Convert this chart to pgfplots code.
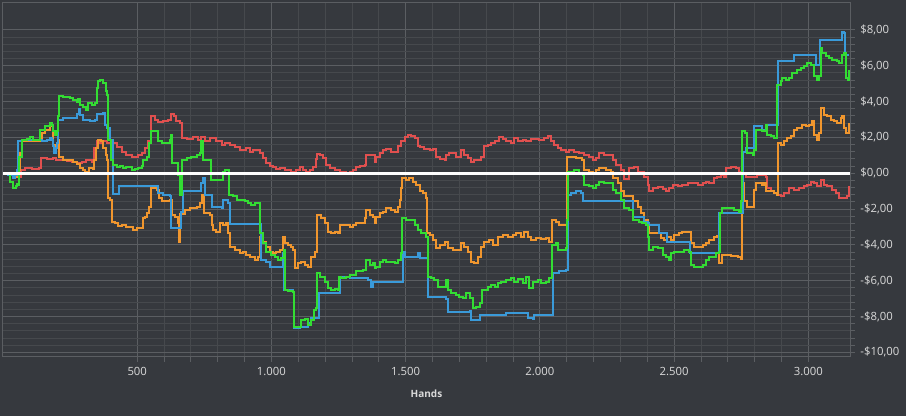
\documentclass[border=0pt]{standalone}
\usepackage{pgfplots}
\pgfplotsset{compat=1.18}
\usepackage{fontspec}
\setmainfont{Open Sans}

\definecolor{bg}{HTML}{36393E}
\definecolor{gmaj}{HTML}{5B5E62}
\definecolor{gmin}{HTML}{46494D}
\definecolor{txt}{HTML}{DADADA}
\definecolor{sblue}{HTML}{3A9AD9}
\definecolor{sgreen}{HTML}{33DD33}
\definecolor{sorange}{HTML}{F0962E}
\definecolor{sred}{HTML}{E0504F}

\begin{document}
\begin{tikzpicture}
\fill[bg] (-2.25pt,-44.25pt) rectangle (677.25pt,267.75pt);
\begin{axis}[
    at={(0,0)}, anchor=south west,
    scale only axis, width=635.25pt, height=265.5pt,
    xmin=0, xmax=3155, ymin=-10.26, ymax=9.5,
    xtick={500,1000,1500,2000,2500,3000},
    xticklabels={500,1.000,1.500,2.000,2.500,3.000},
    ytick={-10,-8,-6,-4,-2,0,2,4,6,8},
    yticklabels={{-\$10,00},{-\$8,00},{-\$6,00},{-\$4,00},{-\$2,00},{\$0,00},{\$2,00},{\$4,00},{\$6,00},{\$8,00}},
    minor x tick num=4, minor y tick num=4,
    grid=both,
    major grid style={gmaj, line width=0.75pt},
    minor grid style={gmin, line width=0.75pt},
    axis line style={gmaj, line width=0.75pt},
    tick align=outside, major tick length=3.75pt, minor tick length=3.75pt,
    tick style={gmaj, line width=0.75pt},
    xtick pos=left, ytick pos=right,
    ticklabel style={txt, font=\fontsize{8.5}{10}\selectfont},
    yticklabel style={anchor=west},
    xlabel={\textbf{Hands}},
    xlabel style={txt, font=\fontsize{7.5}{9}\selectfont, at={(axis description cs:0.5,0)}, anchor=center, yshift=-27.75pt},
    const plot, line width=1.5pt, no markers,
]
% red
\addplot[sred] coordinates {
(0,0) (20,-0.09) (39,-0.22) (61,-0.19) (66,0.19) (82,0.28) (107,0.22) (135,0.28) (140,0.84) (163,0.78) (188,0.84) (197,0.74) (237,0.69) (256,0.65) (274,0.56) (293,0.65) (311,0.74) (330,0.65) (340,1.40) (349,1.77) (361,1.71) (374,1.82) (388,1.68) (405,1.71) (423,1.45) (442,1.21) (460,1.02) (479,0.93) (491,0.89) (504,1.02) (516,1.12) (529,1.40) (541,1.77) (550,3.17) (566,2.98) (578,2.83) (597,2.92) (615,2.98) (624,3.31) (636,3.20) (646,2.89) (659,2.79) (665,1.96) (684,1.90) (708,2.01) (727,1.86) (739,2.01) (752,1.82) (770,1.96) (783,1.96) (795,1.77) (814,1.58) (826,1.68) (845,1.58) (863,1.45) (882,1.30) (894,1.27) (907,1.40) (919,1.21) (932,1.27) (944,1.30) (956,1.12) (969,0.84) (981,0.56) (994,0.41) (1006,0.37) (1018,0.22) (1031,0.28) (1049,0.15) (1062,0.19) (1074,0.04) (1093,0.19) (1105,0.37) (1118,0.19) (1130,0.09) (1142,0.19) (1155,0.37) (1165,0.78) (1171,1.08) (1180,1.02) (1192,0.84) (1204,0.47) (1217,0.28) (1235,0.19) (1254,0.09) (1279,0) (1291,0.09) (1304,0.19) (1316,0.37) (1328,0.41) (1347,0.47) (1353,1.02) (1378,1.02) (1384,0.65) (1390,0.93) (1403,1.12) (1415,1.30) (1428,1.34) (1446,1.21) (1459,1.21) (1471,1.49) (1483,1.77) (1496,2.01) (1508,2.14) (1521,2.09) (1533,1.96) (1545,1.53) (1552,1.45) (1570,1.34) (1589,1.27) (1601,1.34) (1614,0.93) (1626,0.78) (1645,0.74) (1651,1.02) (1663,1.12) (1688,0.93) (1707,1.30) (1719,1.02) (1731,0.84) (1744,0.65) (1756,0.74) (1781,0.93) (1793,1.49) (1806,1.58) (1818,1.68) (1831,1.77) (1849,2.01) (1862,1.90) (1874,1.77) (1893,1.68) (1905,1.96) (1917,1.77) (1936,1.86) (1948,1.77) (1967,1.92) (1998,1.86) (2017,1.96) (2029,2.09) (2041,1.77) (2054,1.58) (2066,1.40) (2079,1.30) (2097,1.21) (2110,1.27) (2128,1.21) (2147,1.12) (2165,1.02) (2184,0.93) (2196,0.74) (2209,0.84) (2221,1.12) (2240,1.02) (2271,0.74) (2283,0.47) (2302,0.19) (2314,-0.34) (2327,-0.34) (2333,0.28) (2351,0.37) (2364,0.09) (2389,-0.19) (2401,-0.65) (2407,-1.02) (2420,-0.84) (2438,-0.78) (2457,-0.89) (2469,-0.97) (2482,-0.84) (2494,-0.65) (2513,-0.74) (2531,-0.65) (2550,-0.56) (2587,-0.65) (2606,-0.56) (2618,-0.47) (2630,-0.56) (2649,-0.28) (2661,-0.19) (2674,-0.09) (2686,-0.19) (2692,0.28) (2711,0.34) (2730,0.28) (2742,0.09) (2754,0) (2767,-0.19) (2810,-0.09) (2841,-0.19) (2847,-0.84) (2860,-1.02) (2872,-1.12) (2885,-1.21) (2897,-1.30) (2909,-1.12) (2928,-0.84) (2947,-0.93) (2965,-0.84) (2984,-0.74) (2996,-0.65) (3009,-0.47) (3021,-0.56) (3033,-0.74) (3046,-0.37) (3058,-0.65) (3071,-0.74) (3089,-0.93) (3102,-1.12) (3114,-1.40) (3126,-1.40) (3145,-1.30) (3151,-0.74)
};
% orange
\addplot[sorange] coordinates {
(0,0) (26,-0.09) (45,-0.19) (57,0.19) (63,1.12) (70,1.77) (88,1.81) (132,1.77) (138,1.86) (144,2.23) (157,2.42) (175,2.61) (185,2.64) (188,1.58) (194,1.40) (200,1.58) (204,1.86) (207,0.93) (225,0.74) (243,0.74) (262,0.65) (277,0.52) (287,0.28) (297,0.19) (305,0) (314,0.09) (321,0.28) (334,0.22) (339,0.74) (346,1.40) (355,1.86) (364,1.77) (374,1.40) (383,1.02) (388,0.74) (392,-1.40) (398,-1.49) (405,-2.70) (417,-2.79) (429,-2.94) (442,-2.89) (460,-2.98) (485,-3.17) (498,-3.07) (510,-3.07) (520,-2.51) (529,-2.42) (535,-2.23) (545,-1.86) (550,-0.84) (572,-0.93) (582,-1.40) (591,-1.58) (622,-1.49) (628,-2.33) (640,-2.42) (650,-2.79) (654,-3.82) (659,-2.27) (677,-2.05) (696,-1.96) (721,-1.90) (733,-1.68) (742,-1.21) (748,-2.23) (770,-2.33) (780,-2.89) (783,-3.17) (795,-3.26) (808,-2.79) (820,-2.89) (832,-2.79) (839,-3.35) (845,-4.10) (863,-4.28) (882,-4.43) (894,-4.38) (907,-4.56) (919,-4.66) (938,-4.84) (950,-4.66) (956,-3.54) (969,-3.82) (981,-4.10) (994,-4.38) (1006,-4.47) (1018,-4.38) (1031,-4.28) (1043,-3.54) (1049,-3.91) (1062,-4.00) (1074,-4.10) (1080,-4.28) (1087,-5.31) (1099,-5.03) (1111,-4.93) (1124,-5.12) (1136,-5.21) (1149,-4.66) (1161,-4.38) (1168,-2.33) (1186,-2.51) (1198,-2.79) (1211,-3.26) (1223,-3.35) (1235,-3.26) (1248,-3.35) (1254,-2.89) (1279,-2.92) (1291,-2.98) (1304,-2.89) (1316,-2.79) (1328,-2.76) (1347,-2.51) (1353,-2.05) (1366,-2.33) (1378,-2.42) (1384,-2.79) (1390,-2.42) (1403,-2.23) (1415,-2.14) (1428,-1.96) (1446,-2.05) (1459,-2.14) (1471,-1.86) (1477,-1.49) (1483,-0.84) (1487,-0.28) (1502,-0.37) (1514,-0.28) (1527,-0.47) (1539,-0.65) (1552,-1.02) (1564,-1.12) (1574,-1.40) (1579,-3.35) (1589,-3.44) (1601,-3.72) (1614,-4.19) (1626,-4.00) (1645,-3.82) (1657,-4.19) (1676,-4.28) (1694,-4.28) (1707,-3.91) (1719,-4.10) (1731,-4.38) (1744,-4.93) (1756,-5.03) (1769,-4.66) (1781,-4.10) (1793,-3.82) (1812,-3.72) (1824,-4.00) (1843,-3.54) (1862,-3.44) (1880,-3.54) (1899,-3.44) (1911,-3.35) (1930,-3.54) (1942,-3.26) (1955,-3.54) (1967,-3.72) (1986,-3.63) (2004,-3.69) (2023,-3.63) (2035,-3.82) (2045,-2.61) (2060,-2.70) (2072,-2.89) (2099,0.93) (2134,0.84) (2157,0.74) (2165,0.19) (2184,0.09) (2196,0) (2209,0.19) (2221,0.28) (2246,0.19) (2265,0.09) (2271,-0.28) (2289,-0.56) (2302,-1.02) (2314,-1.30) (2333,-1.30) (2345,-1.58) (2364,-1.86) (2376,-2.23) (2389,-2.61) (2401,-2.89) (2407,-3.35) (2444,-3.35) (2451,-3.63) (2463,-3.72) (2475,-3.54) (2488,-3.72) (2500,-3.45) (2519,-3.35) (2531,-3.26) (2550,-3.26) (2562,-3.91) (2575,-4.10) (2593,-4.13) (2606,-4.00) (2618,-3.91) (2630,-3.72) (2649,-3.54) (2661,-3.50) (2668,-5.03) (2680,-4.56) (2711,-4.62) (2736,-4.69) (2748,-4.80) (2752,-0.56) (2761,-1.58) (2773,-1.86) (2792,-1.86) (2798,-0.93) (2804,-0.56) (2829,-0.65) (2835,-0.56) (2841,-1.02) (2872,-1.12) (2882,-1.21) (2888,1.68) (2897,1.58) (2909,1.77) (2922,1.96) (2934,2.05) (2947,2.42) (2959,2.51) (2978,2.70) (2990,2.61) (3002,2.70) (3015,2.89) (3021,2.14) (3031,1.86) (3040,2.23) (3046,3.63) (3058,3.26) (3071,3.17) (3083,2.98) (3095,2.89) (3108,2.79) (3120,3.07) (3126,3.17) (3133,2.51) (3139,2.23) (3145,2.23) (3151,2.79)
};
% blue
\addplot[sblue] coordinates {
(0,0) (20,-0.09) (39,-0.28) (45,-0.09) (51,0.19) (57,1.77) (70,1.86) (135,1.86) (144,1.77) (163,1.86) (175,1.96) (181,1.86) (185,1.49) (191,1.12) (197,1.40) (202,1.68) (206,2.98) (225,3.07) (268,3.07) (277,3.31) (282,3.58) (287,3.26) (299,2.98) (324,2.94) (343,2.98) (349,3.31) (374,3.35) (380,2.70) (386,2.51) (398,1.86) (409,-1.15) (429,-1.15) (433,-0.74) (566,-0.74) (578,-1.12) (597,-1.21) (615,-1.21) (622,-1.30) (625,-3.07) (664,-2.14) (670,-1.02) (733,-0.99) (739,-0.56) (746,-0.28) (751,-1.21) (770,-1.21) (780,-1.86) (814,-1.96) (818,-1.49) (832,-1.49) (839,-1.68) (845,-2.83) (956,-2.83) (962,-4.84) (981,-4.93) (994,-5.21) (1037,-5.25) (1043,-4.47) (1046,-6.52) (1080,-6.61) (1084,-8.66) (1105,-8.57) (1130,-8.57) (1136,-8.38) (1149,-8.10) (1170,-8.10) (1176,-6.70) (1248,-6.70) (1254,-5.77) (1291,-5.87) (1359,-5.96) (1372,-6.33) (1378,-6.05) (1483,-6.05) (1489,-4.38) (1496,-4.66) (1539,-4.66) (1545,-4.47) (1552,-4.75) (1576,-4.75) (1583,-6.89) (1651,-7.04) (1657,-7.73) (1738,-7.67) (1744,-8.19) (1769,-8.19) (1775,-7.91) (1868,-7.91) (1874,-7.82) (1948,-7.82) (1955,-8.10) (1973,-8.16) (1979,-7.91) (2045,-7.91) (2048,-5.59) (2072,-5.44) (2097,-5.40) (2106,-1.21) (2116,-1.08) (2134,-1.02) (2153,-1.12) (2159,-1.58) (2333,-1.58) (2345,-2.42) (2389,-2.70) (2401,-2.79) (2407,-2.89) (2444,-3.35) (2475,-3.82) (2556,-3.82) (2560,-4.47) (2661,-4.47) (2668,-2.23) (2748,-2.20) (2757,1.21) (2767,1.40) (2792,1.40) (2798,2.61) (2829,2.42) (2841,2.70) (2872,2.70) (2887,6.24) (2940,6.24) (2947,6.61) (3021,6.61) (3027,6.05) (3040,6.05) (3043,7.41) (3120,7.41) (3126,7.86) (3133,7.82) (3136,6.61) (3151,6.61)
};
% green
\addplot[sgreen] coordinates {
(0,0) (26,-0.47) (39,-0.80) (49,-0.71) (54,-0.60) (57,-0.65) (61,0.93) (71,1.86) (88,1.90) (101,2.01) (113,1.86) (132,1.86) (138,2.42) (157,2.61) (175,2.79) (181,2.70) (185,2.33) (194,2.14) (200,2.33) (206,3.17) (210,4.32) (225,4.28) (250,4.19) (259,4.10) (274,4.00) (281,4.13) (287,3.82) (299,3.72) (311,3.54) (318,3.91) (330,3.82) (343,3.91) (349,4.75) (355,5.12) (361,5.18) (374,5.06) (383,4.56) (388,4.38) (391,1.86) (402,0.74) (411,0.47) (423,0.37) (436,0.41) (448,0.28) (460,0.34) (479,0.19) (491,0.22) (504,0.28) (516,0.41) (522,0.74) (535,0.93) (545,1.68) (553,2.38) (566,2.33) (578,1.77) (591,1.71) (609,1.68) (622,1.86) (625,2.12) (628,0.56) (653,-0.09) (659,-1.21) (665,0.74) (684,0.84) (702,0.93) (721,1.02) (733,1.12) (739,1.77) (746,0.74) (770,0.74) (776,-0.37) (814,-0.37) (818,0.09) (826,0.19) (839,0.15) (842,-1.21) (857,-1.30) (870,-1.49) (901,-1.58) (913,-1.68) (925,-1.77) (938,-1.68) (956,-1.68) (959,-3.35) (969,-3.91) (981,-4.38) (1000,-4.56) (1012,-4.66) (1025,-4.84) (1037,-4.75) (1046,-4.28) (1049,-6.52) (1062,-6.55) (1080,-6.61) (1084,-8.57) (1099,-8.57) (1111,-8.19) (1124,-8.16) (1136,-8.47) (1149,-8.19) (1157,-7.63) (1167,-7.54) (1170,-5.59) (1180,-5.77) (1198,-6.05) (1211,-6.42) (1223,-6.52) (1235,-6.48) (1248,-6.52) (1252,-5.77) (1260,-5.87) (1279,-5.77) (1291,-5.68) (1316,-5.44) (1341,-5.40) (1353,-4.84) (1366,-5.12) (1378,-5.03) (1384,-5.31) (1390,-5.21) (1403,-4.93) (1415,-4.84) (1428,-4.93) (1459,-5.03) (1471,-4.84) (1483,-4.47) (1487,-2.51) (1502,-2.61) (1521,-2.64) (1533,-2.89) (1545,-3.17) (1558,-3.35) (1576,-3.54) (1583,-5.77) (1595,-5.87) (1607,-5.96) (1620,-6.33) (1651,-5.96) (1657,-6.52) (1669,-6.70) (1688,-6.80) (1700,-6.89) (1713,-6.98) (1725,-6.70) (1738,-6.98) (1750,-7.54) (1762,-7.45) (1775,-7.26) (1785,-6.52) (1806,-6.33) (1818,-6.24) (1831,-6.33) (1843,-6.14) (1855,-6.05) (1874,-5.96) (1893,-5.87) (1905,-6.05) (1917,-5.92) (1936,-6.14) (1948,-5.77) (1961,-6.42) (1973,-6.05) (1992,-5.96) (2004,-6.11) (2023,-6.05) (2035,-5.87) (2045,-4.00) (2060,-3.91) (2066,-4.28) (2097,-4.19) (2101,-2.61) (2104,0.09) (2128,0.15) (2147,0) (2159,-0.09) (2165,-0.65) (2184,-0.74) (2196,-0.84) (2209,-0.65) (2221,-0.47) (2240,-0.56) (2271,-0.93) (2283,-1.12) (2302,-1.49) (2314,-1.96) (2333,-2.05) (2345,-2.60) (2370,-2.70) (2382,-2.79) (2395,-2.89) (2401,-3.54) (2407,-4.28) (2420,-4.10) (2438,-4.19) (2457,-4.56) (2469,-4.66) (2482,-4.84) (2488,-4.47) (2500,-4.38) (2537,-4.28) (2556,-4.38) (2562,-5.12) (2575,-5.21) (2606,-5.12) (2618,-4.84) (2630,-4.66) (2643,-4.69) (2655,-4.47) (2668,-4.38) (2671,-2.23) (2680,-1.96) (2723,-2.05) (2742,-2.14) (2748,-1.58) (2751,2.33) (2763,2.23) (2773,1.12) (2792,1.02) (2798,1.30) (2804,2.42) (2829,2.33) (2841,2.70) (2847,2.14) (2860,2.05) (2872,1.96) (2882,4.93) (2897,5.12) (2903,5.31) (2916,5.21) (2928,5.31) (2940,5.59) (2959,5.77) (2971,5.87) (2984,5.96) (2996,6.15) (3009,6.05) (3021,5.40) (3033,5.21) (3040,5.40) (3046,6.98) (3052,6.70) (3064,6.52) (3077,6.42) (3089,6.33) (3108,6.24) (3114,6.15) (3126,6.61) (3133,6.70) (3139,5.31) (3148,5.21) (3151,5.77)
};
% zero line
\addplot[white, sharp plot, line width=2pt] coordinates {(0,0) (3155,0)};
\end{axis}
\pgfresetboundingbox
\useasboundingbox (-2.25pt,-44.25pt) rectangle (677.25pt,267.75pt);
\end{tikzpicture}
\end{document}
